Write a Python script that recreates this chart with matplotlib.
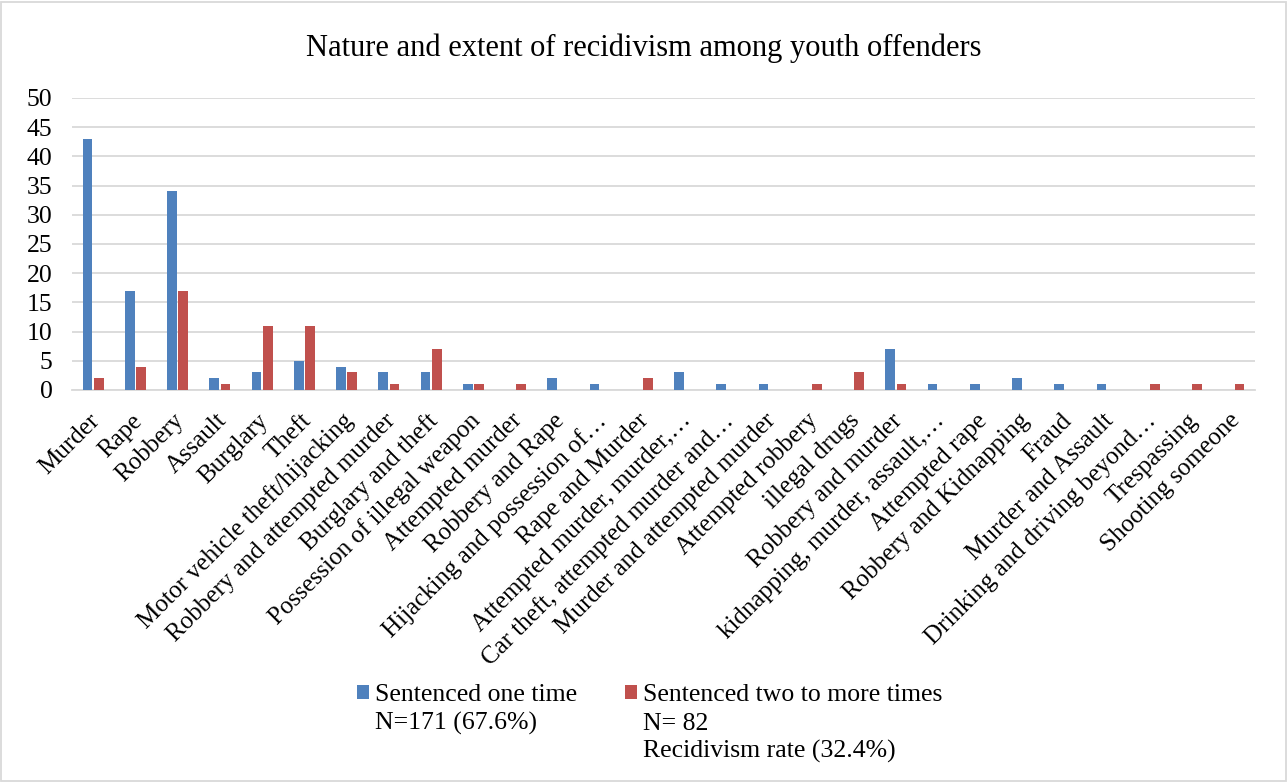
import matplotlib
matplotlib.use("Agg")
import matplotlib.pyplot as plt
import matplotlib.transforms as mtransforms
from matplotlib.patches import Rectangle
import numpy as np

plt.rcParams['font.family'] = ['Liberation Serif', 'DejaVu Serif']

categories = ["Murder", "Rape", "Robbery", "Assault", "Burglary", "Theft",
              "Motor vehicle theft/hijacking", "Robbery and attempted murder",
              "Burglary and theft", "Possession of illegal weapon",
              "Attempted murder", "Robbery and Rape",
              "Hijacking and possession of\u2026", "Rape and Murder",
              "Attempted murder, murder,\u2026", "Car theft, attempted murder and\u2026",
              "Murder and attempted murder", "Attempted robbery", "illegal drugs",
              "Robbery and murder", "kidnapping, murder, assault,\u2026",
              "Attempted rape", "Robbery and Kidnapping", "Fraud",
              "Murder and Assault", "Drinking and driving beyond\u2026",
              "Trespassing", "Shooting someone"]
sentenced_once = [43, 17, 34, 2, 3, 5, 4, 3, 3, 1, 0, 2, 1, 0, 3, 1, 1, 0, 0,
                  7, 1, 1, 2, 1, 1, 0, 0, 0]
sentenced_more = [2, 4, 17, 1, 11, 11, 3, 1, 7, 1, 1, 0, 0, 2, 0, 0, 0, 1, 3,
                  1, 0, 0, 0, 0, 0, 1, 1, 1]
label_once = ["Sentenced one time", "N=171 (67.6%)"]
label_more = ["Sentenced two to more times", "N= 82", "Recidivism rate (32.4%)"]
yticks = [0, 5, 10, 15, 20, 25, 30, 35, 40, 45, 50]

blue = '#4F81BD'
red = '#C0504D'

fig = plt.figure(figsize=(12.88, 7.82), dpi=100)
ax = fig.add_axes([72/1288, 1-390/782, (1255-72)/1288, (390-98)/782])

x = np.arange(len(categories))
w = 0.23
b1 = ax.bar(x - 0.135, sentenced_once, w, color=blue, label=label_once[0], zorder=3)
b2 = ax.bar(x + 0.135, sentenced_more, w, color=red, label=label_more[0], zorder=3)

ax.set_xlim(-0.5, len(categories) - 0.5)
ax.set_ylim(0, 50)
ax.set_yticks(yticks)
ax.yaxis.grid(True, color='#D9D9D9', linewidth=1.3, zorder=0)
ax.set_axisbelow(True)
for s in ['top', 'right', 'left']:
    ax.spines[s].set_visible(False)
ax.spines['bottom'].set_color('#D9D9D9')
ax.spines['bottom'].set_linewidth(1.3)
ax.tick_params(axis='y', length=0, pad=14, labelsize=18.5)
ax.tick_params(axis='x', length=0, pad=6, labelsize=18)
ax.set_xticks(x)
ax.set_xticklabels(categories, rotation=45, ha='right', va='center',
                   rotation_mode='anchor')
offset = mtransforms.ScaledTranslation(3/100, -19/100, fig.dpi_scale_trans)
for lbl in ax.get_xticklabels():
    lbl.set_transform(lbl.get_transform() + offset)

fig.text(0.5, 1-48/782, "Nature and extent of recidivism among youth offenders",
         ha='center', va='center', fontsize=22)

leg = fig.legend(handles=[b1, b2], loc='upper left', ncol=2, frameon=False,
                 bbox_to_anchor=(357/1288, 1-684/782), fontsize=18.5,
                 handlelength=0.47, handleheight=0.47, handletextpad=0.23,
                 columnspacing=1.85, borderaxespad=0, borderpad=0)

# extra legend lines under each entry, aligned with the entry text
fig.canvas.draw()
r = fig.canvas.get_renderer()
for t, extra in zip(leg.get_texts(), [label_once[1:], label_more[1:]]):
    bb = t.get_window_extent(r)
    d = r.get_text_width_height_descent("lp", t.get_fontproperties(),
                                        ismath=False)[2]
    base = bb.y0 + d
    for k, line in enumerate(extra):
        fig.text(bb.x0 / 1288, (base - 28.5 * (k + 1)) / 782, line, ha='left',
                 va='baseline', fontsize=18.5)

fig.patches.append(Rectangle((1/1288, 1/782), 1-3/1288, 1-3/782,
                             transform=fig.transFigure, fill=False,
                             edgecolor='#D9D9D9', linewidth=1.3))

fig.savefig("out.png", dpi=100)
